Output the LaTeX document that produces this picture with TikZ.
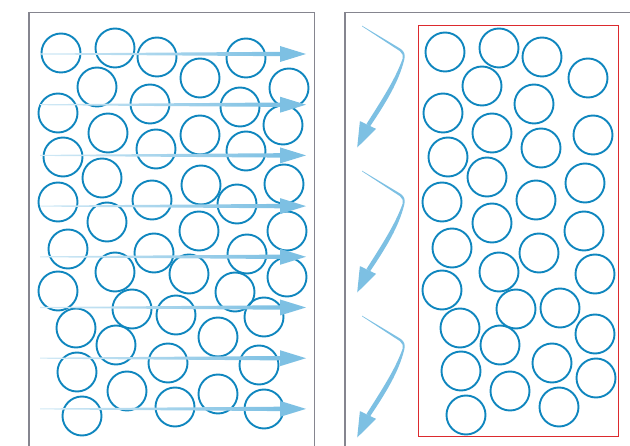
\documentclass[tikz,border=0pt]{standalone}
\usepackage{tikz}
\usetikzlibrary{positioning}
\definecolor{grainblue}{HTML}{0F86BE}
\definecolor{flowblue}{HTML}{7DC0E3}
\definecolor{bedred}{HTML}{DC2A2E}
\definecolor{framegray}{HTML}{85858F}
\tikzset{
  grain/.style={ draw=grainblue, circle, line width=1.9pt, minimum size=39pt, inner sep=0pt }
}
\tikzset{
  panebox/.style={ draw=framegray, line width=1.2pt }
}
\tikzset{
  bedbox/.style={ draw=bedred, line width=1pt }
}
\begin{document}
\begin{tikzpicture}[x=1pt, y=-1pt]
      \clip (0,0) rectangle (630,446);

      % frames
      \draw[panebox] (29,12.5) rectangle (314.5,460);
      \draw[panebox] (345,12.5) rectangle (640,460);
      \draw[bedbox] (418,25.7) rectangle (618.3,437);

      % left panel grains
      \foreach \x/\y [count=\i] in {61/53, 115/48, 157/57, 200/78, 246/58, 289/88, 97/87,
          58/113, 150/104, 240/107, 283/125, 108/133, 200/135, 63/157, 156/149,
          246/151, 102/178, 201/185, 284/184, 58/202, 152/200, 237/204, 107/222,
          199/231, 287/231, 68/249, 154/253, 247/254, 115/272, 189/274, 287/277,
          58/291, 235/292, 132/309, 176/315, 264/317, 76/328, 218/337, 116/345,
          168/363, 259/365, 77/372, 127/391, 218/394, 175/407, 264/409, 82/416}
        \node[grain] (lp\i) at (\x,\y) {};

      % right panel grains
      \foreach \x/\y [count=\i] in {445/52, 499/48, 542/57, 588/78, 482/86, 534/104,
          443/113, 492/133, 593/135, 448/157, 541/148, 487/177, 585/183, 442/202,
          536/200, 492/223, 584/231, 452/248, 539/253, 499/272, 595/274, 442/290,
          516/309, 560/308, 460/328, 595/334, 500/345, 552/363, 461/371, 596/378,
          510/391, 559/407, 466/415}
        \node[grain] (rp\i) at (\x,\y) {};

      % straight flow arrows
      \foreach \k in {0,...,7} {
        \pgfmathsetmacro\ya{54+50.7*\k}
        \shade[left color=flowblue!35, right color=flowblue]
          (40,\ya-0.5) -- (281,\ya-2.2) -- (281,\ya+2.2) -- (40,\ya+0.5) -- cycle;
        \fill[flowblue] (280,\ya-8) -- (306,\ya) -- (280,\ya+8) -- cycle;
      }

      % bent flow arrows
      \foreach \s in {0,145,290} {
        \begin{scope}[shift={(0,\s)}]
          \fill[flowblue] (362,25.7) -- (400.5,48.8)
            .. controls (404.6,51.6) and (405.3,55) .. (404.4,59)
            .. controls (399,82) and (385,104) .. (370,126.5)
            -- (366.5,124)
            .. controls (381,101) and (395,80) .. (402.6,58.8)
            .. controls (403.3,55.5) and (402.5,53.2) .. (400,51.2)
            -- (362,26.3) -- cycle;
          \fill[flowblue] (359.9,121.1) -- (357.2,147.5) -- (376.1,128.9) -- cycle;
        \end{scope}
      }
    \end{tikzpicture}
\end{document}
